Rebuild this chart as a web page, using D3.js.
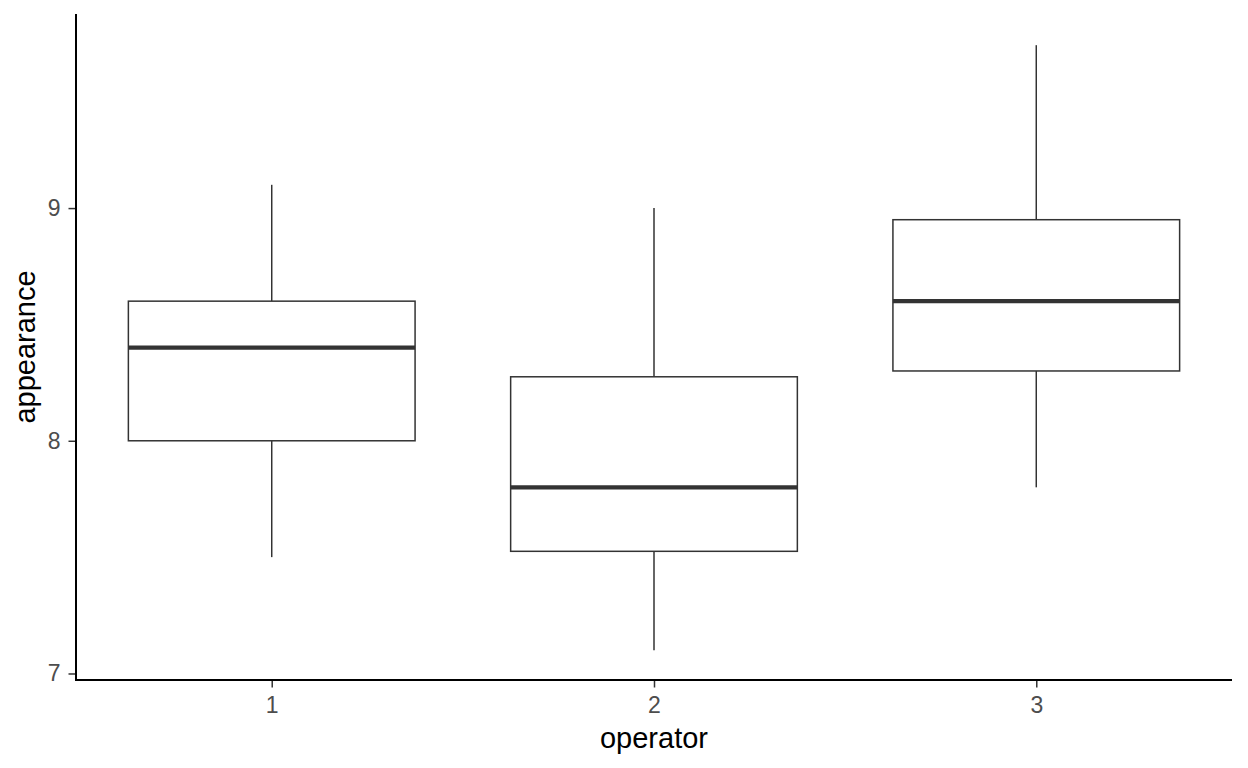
<!DOCTYPE html>
<html>
<head>
<meta charset="utf-8">
<script src="https://cdn.jsdelivr.net/npm/d3@7"></script>
<style>
  html, body { margin: 0; padding: 0; background: #fff; }
  svg { display: block; font-family: "Liberation Sans", Arial, sans-serif; }
</style>
</head>
<body>
<svg id="chart" width="1248" height="768"></svg>
<script>
// Data
const operators = ["1", "2", "3"];
const whiskerLow = [7.5, 7.1, 7.8];
const q1 = [8.0, 7.525, 8.3];
const medians = [8.4, 7.8, 8.6];
const q3 = [8.6, 8.275, 8.95];
const whiskerHigh = [9.1, 9.0, 9.7];
const yTicks = [7, 8, 9];

(function () {
const svg = d3.select("#chart");
const pLeft = 76, pRight = 1232, pTop = 14, pBottom = 680;

const x = d3.scaleLinear().domain([0.488, 3.512]).range([pLeft, pRight]);
const y = d3.scaleLinear().domain([6.972, 9.834]).range([pBottom, pTop]);
const boxW = x(1.75) - x(1);

const data = operators.map((op, i) => ({
  op, pos: i + 1, lo: whiskerLow[i], q1: q1[i], med: medians[i], q3: q3[i], hi: whiskerHigh[i]
}));

const g = svg.append("g");
const stroke = "#333333";

const box = g.selectAll(".box").data(data).enter().append("g");
box.append("line")
  .attr("x1", d => x(d.pos)).attr("x2", d => x(d.pos))
  .attr("y1", d => y(d.hi)).attr("y2", d => y(d.q3))
  .attr("stroke", stroke).attr("stroke-width", 1.5);
box.append("line")
  .attr("x1", d => x(d.pos)).attr("x2", d => x(d.pos))
  .attr("y1", d => y(d.q1)).attr("y2", d => y(d.lo))
  .attr("stroke", stroke).attr("stroke-width", 1.5);
box.append("rect")
  .attr("x", d => x(d.pos) - boxW / 2)
  .attr("width", boxW)
  .attr("y", d => y(d.q3))
  .attr("height", d => y(d.q1) - y(d.q3))
  .attr("fill", "#ffffff").attr("stroke", stroke).attr("stroke-width", 1.5);
box.append("line")
  .attr("x1", d => x(d.pos) - boxW / 2).attr("x2", d => x(d.pos) + boxW / 2)
  .attr("y1", d => y(d.med)).attr("y2", d => y(d.med))
  .attr("stroke", stroke).attr("stroke-width", 4.2);

const yAxis = g.append("g").attr("transform", `translate(${pLeft},0)`)
  .call(d3.axisLeft(y).tickValues(yTicks).tickSize(7.5).tickPadding(8).tickFormat(d3.format("d")));
yAxis.select(".domain").remove();
yAxis.selectAll(".tick line").attr("stroke", "#333").attr("stroke-width", 1.5);
yAxis.selectAll(".tick text").attr("fill", "#4d4d4d").style("font-size", "23px")
  .style("font-family", '"Liberation Sans", Arial, sans-serif');

const xAxis = g.append("g").attr("transform", `translate(0,${pBottom})`)
  .call(d3.axisBottom(x).tickValues([1, 2, 3]).tickSize(7.5).tickPadding(9)
    .tickFormat((d) => operators[d - 1]));
xAxis.select(".domain").remove();
xAxis.selectAll(".tick line").attr("stroke", "#333").attr("stroke-width", 1.5);
xAxis.selectAll(".tick text").attr("fill", "#4d4d4d").style("font-size", "23px")
  .style("font-family", '"Liberation Sans", Arial, sans-serif');

g.append("line").attr("x1", pLeft).attr("x2", pLeft).attr("y1", pTop).attr("y2", pBottom)
  .attr("stroke", "#000").attr("stroke-width", 2);
g.append("line").attr("x1", pLeft - 1).attr("x2", pRight).attr("y1", pBottom).attr("y2", pBottom)
  .attr("stroke", "#000").attr("stroke-width", 2);

svg.append("text").attr("x", (pLeft + pRight) / 2).attr("y", 748)
  .attr("text-anchor", "middle").style("font-size", "29px").attr("fill", "#000")
  .text("operator");
svg.append("text").attr("transform", `translate(35,${(pTop + pBottom) / 2}) rotate(-90)`)
  .attr("text-anchor", "middle").style("font-size", "29px").attr("fill", "#000")
  .text("appearance");
})();
</script>
</body>
</html>
